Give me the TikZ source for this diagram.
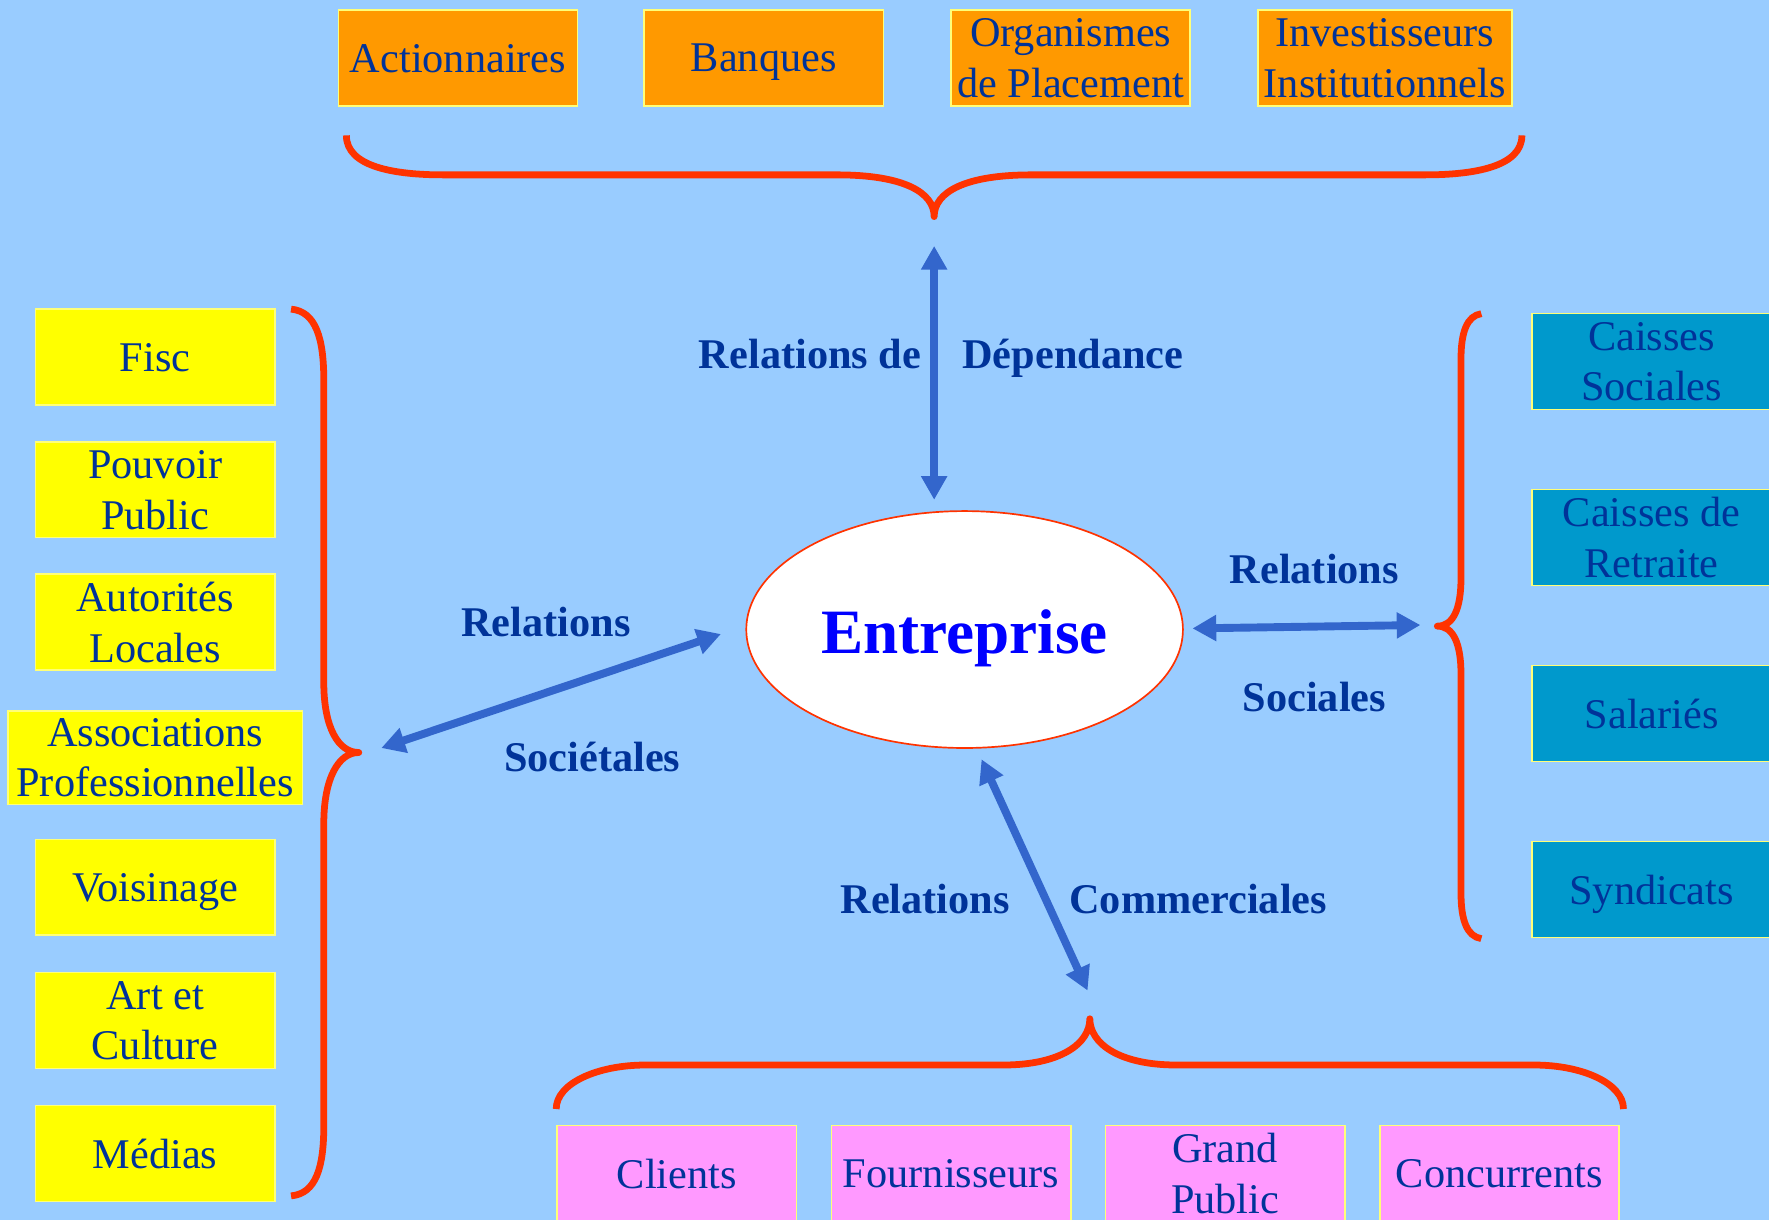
\documentclass[tikz,border=0pt]{standalone}
\usepackage{fontspec}
\setmainfont{Liberation Serif}
\usetikzlibrary{arrows.meta,shapes.geometric}
\definecolor{fond}{RGB}{153,204,255}
\definecolor{boxorange}{RGB}{255,153,0}
\definecolor{boxjaune}{RGB}{255,255,0}
\definecolor{boxbleu}{RGB}{0,153,204}
\definecolor{boxrose}{RGB}{255,153,255}
\definecolor{bord}{RGB}{255,255,120}
\definecolor{texte}{RGB}{0,51,153}
\definecolor{accolade}{RGB}{255,51,0}
\definecolor{fleche}{RGB}{51,102,204}
\tikzset{
  acteur/.style={draw=bord,line width=1.5pt,minimum width=212pt,minimum height=85pt,inner sep=0pt,align=center,text depth=0pt,text=texte,font=\fontsize{37.5}{45}\selectfont},
  lien/.style={anchor=base,text=texte,font=\fontsize{37.5}{45}\selectfont\bfseries},
  acc/.style={draw=accolade,line width=6pt,line join=round},
  rel/.style={draw=fleche,line width=7pt,{Triangle[width=22pt,length=21pt]}-{Triangle[width=22pt,length=21pt]}}
}
\begin{document}
\begin{tikzpicture}[x=1pt,y=-1pt]
      \fill [fond] (0,0) rectangle (1568,1081);
      \useasboundingbox (0,0) rectangle (1568,1081);
      % financeurs
      \node (act) at (406,51.5) [acteur,fill=boxorange]{Actionnaires};
      \node (banq) at (677,51.5) [acteur,fill=boxorange]{Banques};
      \node (opc) at (949,51.5) [acteur,fill=boxorange]{Organismes\\de Placement};
      \node (inst) at (1227.5,51.5) [acteur,fill=boxorange,minimum width=225pt]{Investisseurs\\Institutionnels};
      \draw [acc] (307,120) .. controls (307,148) and (350,155) .. (393,155) -- (742,155) .. controls (800,155) and (828,170) .. (828,192) .. controls (828,170) and (856,155) .. (914,155) -- (1263,155) .. controls (1306,155) and (1349,148) .. (1349,120);
      % societe
      \node (fisc) at (137.5,316.5) [acteur,fill=boxjaune]{Fisc};
      \node (pouvoir) at (137.5,434) [acteur,fill=boxjaune]{Pouvoir\\Public};
      \node (autorites) at (137.5,551.5) [acteur,fill=boxjaune]{Autorités\\Locales};
      \node (assoc) at (137.5,671.5) [acteur,fill=boxjaune,minimum width=261pt,minimum height=83pt]{Associations\\Professionnelles};
      \node (voisinage) at (137.5,786.5) [acteur,fill=boxjaune]{Voisinage};
      \node (culture) at (137.5,904.5) [acteur,fill=boxjaune]{Art et\\Culture};
      \node (medias) at (137.5,1022.5) [acteur,fill=boxjaune]{Médias};
      \draw [acc] (258,274) .. controls (280,276) and (287,300) .. (287,337) -- (287,605) .. controls (287,645) and (300,667) .. (318,667) .. controls (300,667) and (287,690) .. (287,730) -- (287,998) .. controls (287,1035) and (280,1058) .. (258,1060);
      % social
      \node (caisses) at (1464,320.5) [acteur,fill=boxbleu]{Caisses\\Sociales};
      \node (retraite) at (1464,476.5) [acteur,fill=boxbleu]{Caisses de\\Retraite};
      \node (salaries) at (1464,632.5) [acteur,fill=boxbleu]{Salariés};
      \node (syndicats) at (1464,788.5) [acteur,fill=boxbleu]{Syndicats};
      \draw [acc] (1313,278) .. controls (1300,280) and (1295,295) .. (1295,318) -- (1295,512) .. controls (1295,540) and (1288,555) .. (1274,555) .. controls (1288,555) and (1295,570) .. (1295,598) -- (1295,792) .. controls (1295,815) and (1300,830) .. (1313,832);
      % marche
      \node (clients) at (600,1040) [acteur,fill=boxrose]{Clients};
      \node (fournisseurs) at (843,1040) [acteur,fill=boxrose]{Fournisseurs};
      \node (public) at (1086,1040) [acteur,fill=boxrose]{Grand\\Public};
      \node (concurrents) at (1329,1040) [acteur,fill=boxrose]{Concurrents};
      \draw [acc] (493,983) .. controls (493,960) and (530,944) .. (572,944) -- (889,944) .. controls (940,944) and (966,925) .. (966,903) .. controls (966,925) and (992,944) .. (1043,944) -- (1360,944) .. controls (1402,944) and (1439,960) .. (1439,983);
      % entreprise
      \node (entreprise) at (855,558) [ellipse,draw=accolade,line width=1.5pt,fill=white,minimum width=387pt,minimum height=210pt,inner sep=0pt]{};
      \node (nom) at (855,579) [anchor=base,text=blue,font=\fontsize{56}{67}\selectfont\bfseries]{Entreprise};
      % relations
      \coordinate (dep1) at (828,218);
      \coordinate (dep2) at (828,443);
      \coordinate (soc1) at (338,663);
      \coordinate (soc2) at (639,562);
      \coordinate (sal1) at (1057,557);
      \coordinate (sal2) at (1259,554);
      \coordinate (com1) at (870,673);
      \coordinate (com2) at (964,878);
      \draw [rel] (dep1) -- (dep2);
      \draw [rel] (soc1) -- (soc2);
      \draw [rel] (sal1) -- (sal2);
      \draw [rel] (com1) -- (com2);
      \node (dep) at (718,327) [lien]{Relations de};
      \node (depb) at (951,327) [lien]{Dépendance};
      \node (socrel) at (484,564) [lien]{Relations};
      \node (socb) at (525,684) [lien]{Sociétales};
      \node (salrel) at (1165,517) [lien]{Relations};
      \node (salb) at (1165,631) [lien]{Sociales};
      \node (comrel) at (820,810) [lien]{Relations};
      \node (comb) at (1062,810) [lien]{Commerciales};
    \end{tikzpicture}
\end{document}
